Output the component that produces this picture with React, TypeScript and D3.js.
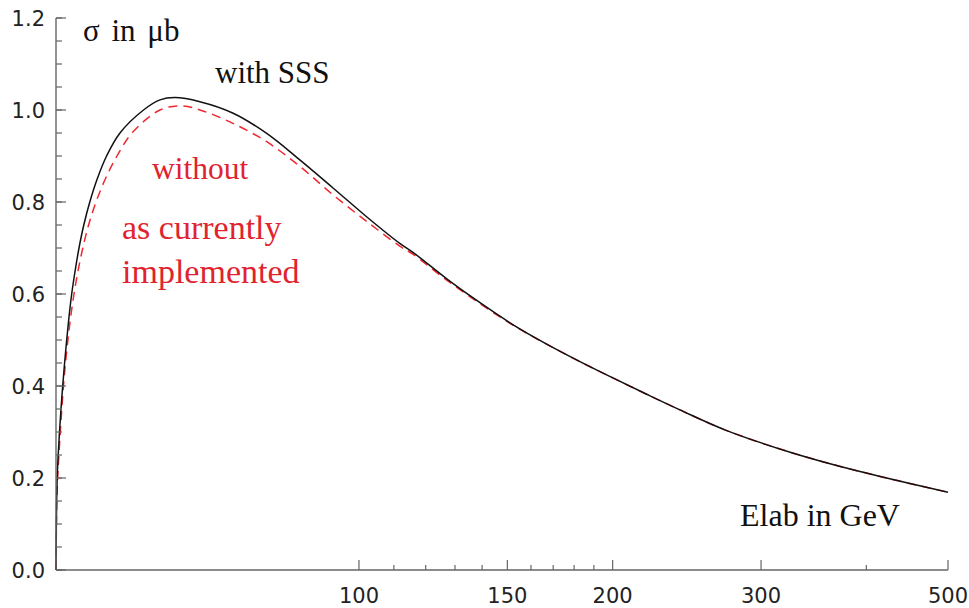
import React from "react";
import * as d3 from "d3";

// Cross section σ (μb) versus lab energy (GeV)
const sssEnergy = [
  43.7, 43.718, 43.742, 43.778, 43.843, 43.963, 44.119, 44.3, 44.506, 44.738,
  44.995, 45.279, 45.614, 46.041, 46.535, 47.147, 47.927, 48.905, 50.178,
  52.048, 55.505, 58.06, 60.49, 64.75, 70.91, 77.72, 85.14, 93.23, 102.1,
  111.8, 116.0, 127.1, 139.2, 152.4, 167.0, 182.9, 200.4, 219.5, 240.4, 273.2,
  327.7, 393.2, 500,
];
const sssSigma = [
  0.0, 0.05, 0.1, 0.15, 0.2, 0.25, 0.3, 0.35, 0.4, 0.45, 0.5, 0.55, 0.6, 0.65,
  0.7, 0.75, 0.8, 0.85, 0.9, 0.95, 1.0, 1.022, 1.027, 1.018, 0.993, 0.949,
  0.891, 0.83, 0.768, 0.71, 0.69, 0.633, 0.581, 0.533, 0.491, 0.453, 0.417,
  0.382, 0.348, 0.303, 0.254, 0.214, 0.169,
];

const currentEnergy = [
  43.7, 43.724, 43.754, 43.796, 43.903, 44.047, 44.215, 44.397, 44.603,
  44.848, 45.143, 45.49, 45.902, 46.407, 47.019, 47.77, 48.746, 50.001, 51.627,
  53.788, 58.064, 61.59, 65.28, 70.86, 77.72, 85.14, 93.23, 102.1, 111.8,
  116.0, 127.1, 139.2, 152.4, 167.0, 182.9, 200.4, 219.5, 240.4, 273.2, 327.7,
  393.2, 500,
];
const currentSigma = [
  0.0, 0.05, 0.1, 0.15, 0.2, 0.25, 0.3, 0.35, 0.4, 0.45, 0.5, 0.55, 0.6, 0.65,
  0.7, 0.75, 0.8, 0.85, 0.9, 0.95, 1.0, 1.009, 0.998, 0.971, 0.931, 0.877,
  0.815, 0.758, 0.704, 0.686, 0.63, 0.579, 0.532, 0.491, 0.453, 0.417, 0.382,
  0.348, 0.303, 0.254, 0.214, 0.169,
];

const xMajorTicks = [100, 150, 200, 300, 500];
const xMinorTicks = [110, 120, 130, 140, 160, 170, 180, 190, 400];
const yMajorTicks = [0, 0.2, 0.4, 0.6, 0.8, 1.0, 1.2];
const yMinorTicks = d3.range(0, 25).map((i) => i * 0.05);

const W = 969;
const H = 608;
const axisColor = "#666";
const redText = "#e0232e";
const redLine = "#f0282f";

export default function App() {
  const x = d3.scaleLog().domain([43.7, 500]).range([56, 948]);
  const y = d3.scaleLinear().domain([0, 1.2]).range([570, 18]);

  const line = d3
    .line<[number, number]>()
    .x((d) => x(d[0]))
    .y((d) => y(d[1]))
    .curve(d3.curveCatmullRom.alpha(0.5));

  const sssPts = sssEnergy.map((e, i) => [e, sssSigma[i]] as [number, number]);
  const curPts = currentEnergy.map(
    (e, i) => [e, currentSigma[i]] as [number, number]
  );

  const serif = "'Liberation Serif', 'Times New Roman', serif";
  const sans = "'DejaVu Sans', sans-serif";

  return (
    <svg
      width={W}
      height={H}
      style={{ position: "absolute", left: 0, top: 0, background: "#fff" }}
    >
      <rect width={W} height={H} fill="#fff" />

      {/* curves */}
      <path
        d={line(curPts) || ""}
        fill="none"
        stroke={redLine}
        strokeWidth={1.5}
        strokeDasharray="9,6"
      />
      <path d={line(sssPts) || ""} fill="none" stroke="#111" strokeWidth={1.5} />

      {/* y axis */}
      <line x1={56} x2={56} y1={y(1.2)} y2={y(0)} stroke={axisColor} strokeWidth={1.4} />
      {yMinorTicks.map((t) => (
        <line key={"ym" + t} x1={56} x2={62} y1={y(t)} y2={y(t)} stroke={axisColor} strokeWidth={1.2} />
      ))}
      {yMajorTicks.map((t) => (
        <g key={"yM" + t}>
          <line x1={56} x2={66} y1={y(t)} y2={y(t)} stroke={axisColor} strokeWidth={1.2} />
          <text
            x={45}
            y={y(t)}
            dy="0.36em"
            textAnchor="end"
            fontFamily={sans}
            fontSize={21}
            fill="#222"
          >
            {d3.format(".1f")(t)}
          </text>
        </g>
      ))}

      {/* x axis */}
      <line x1={56} x2={948} y1={570} y2={570} stroke={axisColor} strokeWidth={1.4} />
      {xMinorTicks.map((t) => (
        <line key={"xm" + t} x1={x(t)} x2={x(t)} y1={570} y2={565} stroke={axisColor} strokeWidth={1.2} />
      ))}
      {xMajorTicks.map((t) => (
        <g key={"xM" + t}>
          <line x1={x(t)} x2={x(t)} y1={570} y2={560} stroke={axisColor} strokeWidth={1.2} />
          <text
            x={x(t)}
            y={603}
            textAnchor="middle"
            fontFamily={sans}
            fontSize={21}
            fill="#222"
          >
            {t}
          </text>
        </g>
      ))}

      {/* labels */}
      <text x={83} y={41} fontFamily={serif} fontSize={31} fill="#111" wordSpacing={4}>
        σ in μb
      </text>
      <text x={215} y={83} fontFamily={serif} fontSize={31} fill="#111">
        with SSS
      </text>
      <text x={152} y={179} fontFamily={serif} fontSize={31.5} fill={redText}>
        without
      </text>
      <text x={122} y={239} fontFamily={serif} fontSize={34} fill={redText}>
        as currently
      </text>
      <text x={122} y={283} fontFamily={serif} fontSize={34} fill={redText}>
        implemented
      </text>
      <text x={740} y={526} fontFamily={serif} fontSize={32} fill="#111">
        Elab in GeV
      </text>
    </svg>
  );
}
